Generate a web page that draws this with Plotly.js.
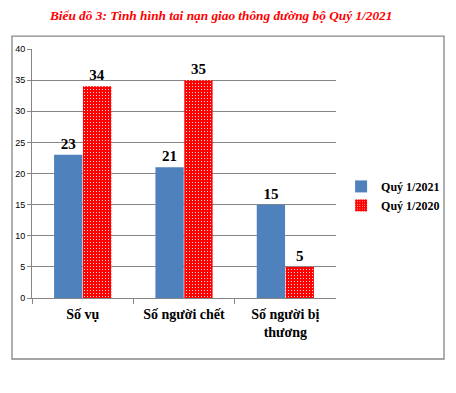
<!DOCTYPE html>
<html>
<head>
<meta charset="utf-8">
<script src="https://cdn.plot.ly/plotly-3.0.1.min.js"></script>
<style>html,body{margin:0;padding:0;background:#fff;}</style>
</head>
<body>
<div id="chart" style="width:456px;height:393px;"></div>
<script>
var categories = ["Số vụ", "Số người chết", "Số người bị<br>thương"];
var series2021 = [23, 21, 15];
var series2020 = [34, 35, 5];
var seriesNames = ["Quý 1/2021", "Quý 1/2020"];
var titleText = "Biểu đồ 3: Tình hình tai nạn giao thông đường bộ Quý 1/2021";

var serif = "Liberation Serif, Times New Roman, serif";
var traces = [
  {
    type: "bar", name: seriesNames[0], x: categories, y: series2021,
    marker: {color: "#4F81BD"},
    text: series2021.map(String), textposition: "outside", cliponaxis: false,
    textfont: {family: serif, size: 15, color: "#000", weight: "bold"}
  },
  {
    type: "bar", name: seriesNames[1], x: categories, y: series2020,
    marker: {color: "#FF0000", pattern: {shape: ".", fgcolor: "#FFFFFF", bgcolor: "#FF0000", size: 3, solidity: 0.12}},
    text: series2020.map(String), textposition: "outside", cliponaxis: false,
    textfont: {family: serif, size: 15, color: "#000", weight: "bold"}
  }
];

var layout = {
  width: 456, height: 393,
  margin: {l: 32, r: 0, t: 49, b: 95},
  paper_bgcolor: "#fff", plot_bgcolor: "#fff",
  barmode: "group", bargap: 0.43, bargroupgap: 0.02,
  title: {text: titleText, font: {family: serif, size: 13.3, color: "#FF0000", weight: "bold", style: "italic"}, xref: "container", x: 0.485, xanchor: "center", y: 0.962, yanchor: "middle"},
  xaxis: {
    domain: [0, 0.717],
    showline: true, linecolor: "#868686", linewidth: 1,
    ticks: "outside", tickson: "boundaries", ticklen: 5, tickcolor: "#868686",
    tickangle: 0, ticklabelstandoff: 3,
    tickfont: {family: serif, size: 14, color: "#000", weight: "bold"},
    showgrid: false
  },
  yaxis: {
    range: [0, 40], dtick: 5,
    showline: true, linecolor: "#868686", linewidth: 1,
    ticks: "outside", ticklen: 4, tickcolor: "#868686",
    gridcolor: "#868686", gridwidth: 1, zeroline: false,
    tickfont: {family: "Liberation Sans, Arial, sans-serif", size: 9, color: "#000"}
  },
  showlegend: true,
  legend: {
    x: 0.729, xanchor: "left", y: 0.41, yanchor: "middle",
    font: {family: serif, size: 12, color: "#000", weight: "bold"},
    itemwidth: 30, tracegroupgap: 0, bgcolor: "rgba(0,0,0,0)"
  },
  shapes: [{
    type: "rect", xref: "paper", yref: "paper",
    x0: -0.0472, x1: 0.9717, y0: -0.245, y1: 1.052,
    line: {color: "#868686", width: 1.3}, fillcolor: "rgba(0,0,0,0)", layer: "below"
  }]
};

Plotly.newPlot("chart", traces, layout, {displayModeBar: false, staticPlot: true});
</script>
</body>
</html>
